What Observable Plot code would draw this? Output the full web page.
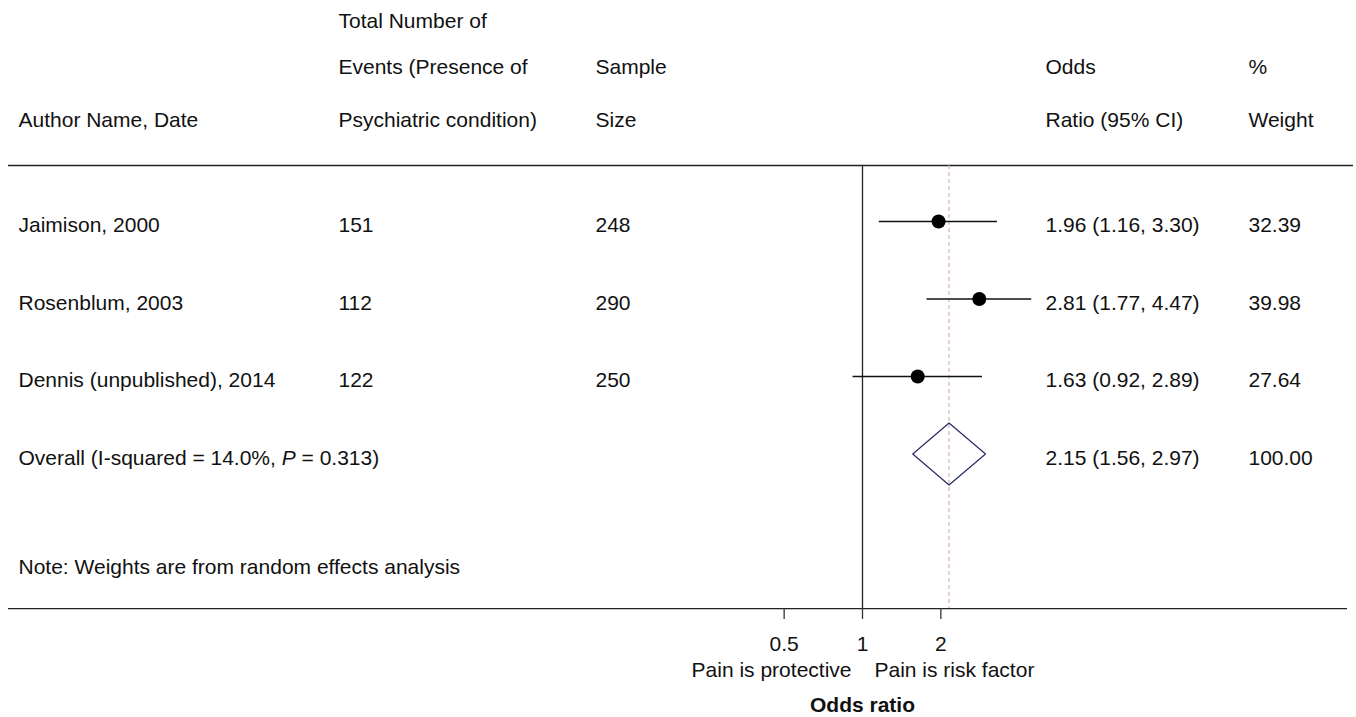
<!DOCTYPE html>
<html>
<head>
<meta charset="utf-8">
<script src="https://cdn.jsdelivr.net/npm/d3@7"></script>
<script src="https://cdn.jsdelivr.net/npm/@observablehq/plot@0.6"></script>
<style>
  html, body { margin: 0; padding: 0; background: #fff; }
  #chart svg { display: block; }
</style>
</head>
<body>
<div id="chart"></div>
<script>
// ---------------- data ----------------
const studies = ["Jaimison, 2000", "Rosenblum, 2003", "Dennis (unpublished), 2014"];
const events = [151, 112, 122];
const sampleSizes = [248, 290, 250];
const oddsRatios = [1.96, 2.81, 1.63];
const ciLower = [1.16, 1.77, 0.92];
const ciUpper = [3.30, 4.47, 2.89];
const weights = [32.39, 39.98, 27.64];

const overallLabelParts = ["Overall (I-squared = 14.0%, ", "P", " = 0.313)"];
const overallOR = 2.15;
const overallLower = 1.56;
const overallUpper = 2.97;
const overallWeight = 100.00;

const noteText = "Note: Weights are from random effects analysis";

const headerAuthor = ["Author Name, Date"];
const headerEvents = ["Total Number of", "Events (Presence of", "Psychiatric condition)"];
const headerSample = ["Sample", "Size"];
const headerOR = ["Odds", "Ratio (95% CI)"];
const headerWeight = ["%", "Weight"];

const xTicks = [0.5, 1, 2];
const nullValue = 1;
const leftLabel = "Pain is protective";
const rightLabel = "Pain is risk factor";
const xLabel = "Odds ratio";

// ---------------- layout (styles / positions, not data) ----------------
const W = 1356, H = 717;
const font = "'Liberation Sans', Arial, Helvetica, sans-serif";
const fs = 21;
const ink = "#111";
const xNullPx = 862, pxPerDoubling = 78.35;     // log-scale calibration
const rowTopPx = 221, rowStepPx = 77.5;          // row-unit calibration
const colX = { author: 18, events: 338, sample: 595, or: 1045, weight: 1248 };
const headerRows = [-2.59, -1.996, -1.312];      // three header lines (row units)
const topRuleRow = -0.7226;
const bottomRuleRow = 4.994;
const noteRow = 4.462;
const tickEndRow = 5.135;
const tickLabelRow = 5.449;
const sideLabelRow = 5.796;
const xLabelRow = 6.243;
const diamondHalf = 0.40;
const textDy = 4;

// ---------------- derived tables ----------------
const fmt = d3.format(".2f");
const studyRows = studies.map((name, i) => ({
  row: i,
  author: name,
  events: String(events[i]),
  sample: String(sampleSizes[i]),
  or: oddsRatios[i], lo: ciLower[i], hi: ciUpper[i],
  orText: `${fmt(oddsRatios[i])} (${fmt(ciLower[i])}, ${fmt(ciUpper[i])})`,
  weight: fmt(weights[i])
}));
const overallLabel = overallLabelParts.join("");
const overallRow = {
  row: studies.length,
  author: overallLabel, events: "", sample: "",
  or: overallOR, lo: overallLower, hi: overallUpper,
  orText: `${fmt(overallOR)} (${fmt(overallLower)}, ${fmt(overallUpper)})`,
  weight: fmt(overallWeight)
};
const tableRows = [...studyRows, overallRow];

function headerLines(lines) {
  const n = lines.length;
  return lines.map((t, j) => ({ text: t, row: headerRows[headerRows.length - n + j] }));
}

const diamond = [
  { x: overallLower, y: overallRow.row },
  { x: overallOR, y: overallRow.row - diamondHalf },
  { x: overallUpper, y: overallRow.row },
  { x: overallOR, y: overallRow.row + diamondHalf },
  { x: overallLower, y: overallRow.row }
];

const textOpts = { fontSize: fs, fill: ink, frameAnchor: "left" };

function columnMarks(key, headers) {
  return [
    Plot.text(headerLines(headers), { ...textOpts, y: "row", text: "text", dx: colX[key] }),
    Plot.text(tableRows, { ...textOpts, y: "row", text: key === "author" ? "author" : key === "or" ? "orText" : key, dx: colX[key], dy: textDy })
  ];
}

const chart = Plot.plot({
  width: W,
  height: H,
  margin: 0,
  style: { fontFamily: font, fontSize: fs + "px", color: ink, background: "#fff", overflow: "visible" },
  x: {
    type: "log",
    domain: [2 ** (-xNullPx / pxPerDoubling), 2 ** ((W - xNullPx) / pxPerDoubling)],
    axis: null
  },
  y: {
    type: "linear",
    domain: [-rowTopPx / rowStepPx, (H - rowTopPx) / rowStepPx],
    range: [0, H],
    axis: null
  },
  marks: [
    // horizontal rules
    Plot.ruleY([topRuleRow], { stroke: "#222", strokeWidth: 1.3, insetLeft: 8, insetRight: 3 }),
    Plot.ruleY([bottomRuleRow], { stroke: "#222", strokeWidth: 1.3, insetLeft: 8, insetRight: 9 }),
    // null line and overall dashed line
    Plot.ruleX([overallOR], { y1: topRuleRow, y2: bottomRuleRow, stroke: "#d6a0aa", strokeWidth: 1, strokeDasharray: "4,3" }),
    Plot.ruleX([nullValue], { y1: topRuleRow, y2: bottomRuleRow, stroke: "#222", strokeWidth: 1.3 }),
    // CIs and point estimates
    Plot.ruleY(studyRows, { y: "row", x1: "lo", x2: "hi", stroke: "#111", strokeWidth: 1.3 }),
    Plot.dot(studyRows, { x: "or", y: "row", r: 7, fill: "#000", stroke: null }),
    // pooled diamond
    Plot.line(diamond, { x: "x", y: "y", stroke: "#2a2a66", strokeWidth: 1.2, strokeLinejoin: "miter" }),
    // axis ticks
    Plot.ruleX(xTicks, { x: d => d, y1: bottomRuleRow, y2: tickEndRow, stroke: "#333", strokeWidth: 1.3 }),
    Plot.text(xTicks, { x: d => d, y: tickLabelRow, text: d => String(d), fontSize: fs, fill: ink }),
    Plot.text([leftLabel], { x: nullValue, y: sideLabelRow, text: d => d, textAnchor: "end", dx: -11, fontSize: fs, fill: ink }),
    Plot.text([rightLabel], { x: nullValue, y: sideLabelRow, text: d => d, textAnchor: "start", dx: 12, fontSize: fs, fill: ink }),
    Plot.text([xLabel], { x: nullValue, y: xLabelRow, text: d => d, fontWeight: "bold", fontSize: fs, fill: ink }),
    // table columns
    ...columnMarks("author", headerAuthor),
    ...columnMarks("events", headerEvents),
    ...columnMarks("sample", headerSample),
    ...columnMarks("or", headerOR),
    ...columnMarks("weight", headerWeight),
    // note
    Plot.text([noteText], { ...textOpts, y: noteRow, text: d => d, dx: colX.author })
  ]
});

// italic "P" in the overall label
const NS = "http://www.w3.org/2000/svg";
chart.querySelectorAll("text, tspan").forEach(el => {
  if (el.children.length === 0 && el.textContent === overallLabel) {
    el.textContent = "";
    overallLabelParts.forEach((part, k) => {
      if (k === 1) {
        const ts = document.createElementNS(NS, "tspan");
        ts.setAttribute("font-style", "italic");
        ts.textContent = part;
        el.appendChild(ts);
      } else {
        el.appendChild(document.createTextNode(part));
      }
    });
  }
});

document.getElementById("chart").appendChild(chart);
</script>
</body>
</html>
